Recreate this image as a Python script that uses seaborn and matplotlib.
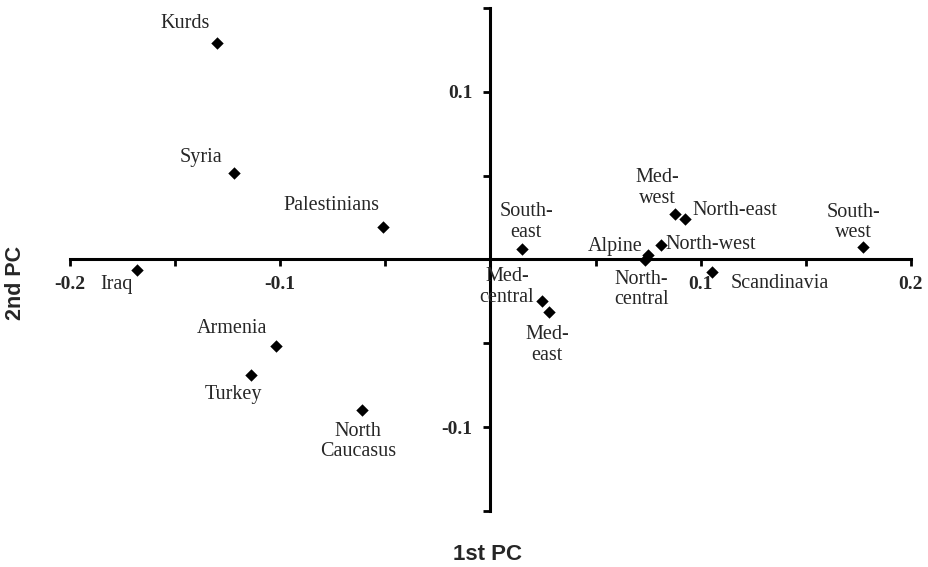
import numpy as np
import pandas as pd
import matplotlib
matplotlib.use("Agg")
import matplotlib.pyplot as plt
import seaborn as sns

# PCA scores
populations = ["Kurds", "Syria", "Palestinians", "Iraq", "Armenia", "Turkey",
               "North\nCaucasus", "South-\neast", "Med-\ncentral", "Med-\neast",
               "Alpine", "North-\ncentral", "North-west", "Med-\nwest",
               "North-east", "Scandinavia", "South-\nwest"]
pc1 = [-0.130, -0.122, -0.051, -0.168, -0.102, -0.114, -0.061, 0.015, 0.0245,
       0.028, 0.0747, 0.0733, 0.081, 0.088, 0.0923, 0.1053, 0.177]
pc2 = [0.129, 0.0516, 0.0195, -0.006, -0.0514, -0.0686, -0.0895, 0.0064, -0.0248,
       -0.0313, 0.0024, -0.0006, 0.0089, 0.0272, 0.0242, -0.0075, 0.0077]

xticks = [-0.2, -0.15, -0.1, -0.05, 0.0, 0.05, 0.1, 0.15, 0.2]
xticklabels = ["-0.2", "", "-0.1", "", "", "", "0.1", "", "0.2"]
yticks = [-0.15, -0.1, -0.05, 0.0, 0.05, 0.1, 0.15]
yticklabels = ["", "-0.1", "", "", "", "0.1", ""]

# label offsets from each marker, in pixels (layout only)
label_offsets = [(-32, 20), (-33, 15), (-52, 21), (-21, -15), (-44, 17), (-17, -20),
                 (-4, -32), (4, 27), (-35, 14), (-2, -33), (-32, 9), (-3, -29),
                 (50, 0), (-18, 26), (50, 8), (68, -11), (-9, 24)]

df = pd.DataFrame({"population": populations, "pc1": pc1, "pc2": pc2})

sns.set_style("white")
plt.rcParams["font.family"] = ["Liberation Serif", "DejaVu Serif"]

fig = plt.figure(figsize=(9.29, 5.67), dpi=100)
ax = fig.add_axes([0.0753, 0.0988, 0.9053, 0.8871])

sns.scatterplot(data=df, x="pc1", y="pc2", marker="D", color="black",
                s=40, edgecolor="black", linewidth=0, ax=ax, zorder=3)

for name, x, y, off in zip(df["population"], df["pc1"], df["pc2"], label_offsets):
    ax.annotate(name, (x, y), xytext=off, textcoords="offset pixels",
                ha="center", va="center", fontsize=14.5, linespacing=1.12)

ax.set_xlim(-0.2, 0.2)
ax.set_ylim(-0.15, 0.15)
ax.spines["left"].set_position(("data", 0))
ax.spines["bottom"].set_position(("data", 0))
ax.spines["top"].set_visible(False)
ax.spines["right"].set_visible(False)
for sp in ["left", "bottom"]:
    ax.spines[sp].set_linewidth(2.2)
    ax.spines[sp].set_color("black")

ax.set_xticks(xticks)
ax.set_xticklabels(xticklabels, fontsize=14, fontweight="bold")
ax.set_yticks(yticks)
ax.set_yticklabels(yticklabels, fontsize=14, fontweight="bold")
ax.tick_params(axis="both", direction="out", length=5, width=2, color="black")
ax.tick_params(axis="x", pad=7, bottom=True)
ax.tick_params(axis="y", pad=8, left=True)
ax.set_xlabel("")
ax.set_ylabel("")

fig.text(488 / 929, 1 - 555 / 567, "1st PC", ha="center", va="center",
         fontsize=16, fontweight="bold", family="Liberation Sans")
fig.text(16 / 929, 1 - 283 / 567, "2nd PC", ha="center", va="center",
         rotation=90, fontsize=15.5, fontweight="bold", family="Liberation Sans")

fig.savefig("out.png", dpi=100)
